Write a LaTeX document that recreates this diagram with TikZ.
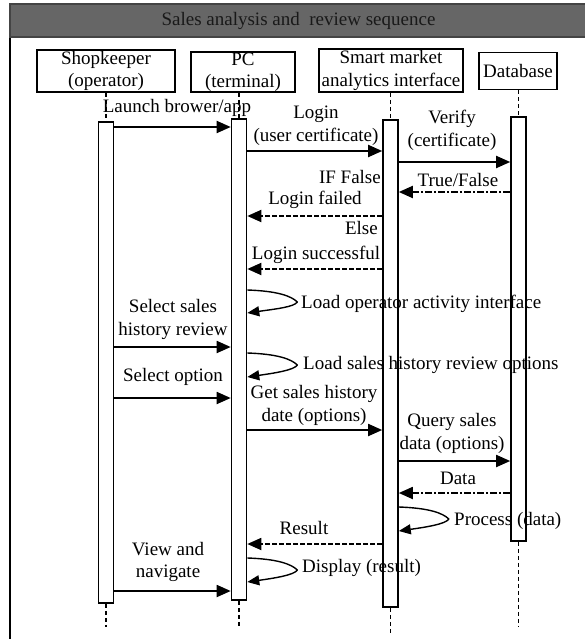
\documentclass[tikz,border=0pt]{standalone}
\usepackage{fontspec}
\setmainfont{Liberation Serif}
\usetikzlibrary{arrows.meta}
\definecolor{titlegray}{HTML}{666666}
\definecolor{titleedge}{HTML}{444444}
\begin{document}
\begin{tikzpicture}[x=1pt,y=-1pt,
  every node/.style={font=\fontsize{19}{22.5}\selectfont, inner sep=0pt},
  actor/.style={draw, line width=1.6pt, fill=white, align=center},
  actbar/.style={draw, line width=1.6pt, fill=white, minimum width=15pt},
  lifeline/.style={line width=1.8pt, dash pattern=on 4pt off 3pt},
  msg/.style={line width=1.8pt, -{Triangle[length=14pt,width=12pt]}},
  reply/.style={msg, dash pattern=on 5pt off 2pt},
  replydot/.style={msg, dash pattern=on 7pt off 2pt on 2pt off 2pt},
  selfmsg/.style={line width=1.4pt, line join=round, -{Triangle[length=12pt,width=10pt]}},
  lbl/.style={align=center},
]
\useasboundingbox (0,0) rectangle (585,639);

% frame and title bar
\draw[line width=1.8pt] (10,37) -- (10,650);
\draw[fill=titlegray, draw=titleedge, line width=1.5pt] (10,4) rectangle (600,37);
\node[text=black!90] (title) at (298.5,20.5) {Sales analysis and\ \ review sequence};

% participants
\node[actor, minimum width=138pt, minimum height=42pt] (shop) at (106,71) {Shopkeeper\\(operator)};
\node[actor, minimum width=104pt, minimum height=40pt] (pc) at (243,72) {PC\\(terminal)};
\node[actor, minimum width=144pt, minimum height=43pt] (smart) at (391,70.5) {Smart market\\analytics interface};
\node[actor, minimum width=78pt, minimum height=37pt] (db) at (518,71) {Database};

% activation bars
\node[actbar, minimum height=481pt] (shopact) at (106,362.5) {};
\node[actbar, minimum height=481pt] (pcact) at (239,359.5) {};
\node[actbar, minimum height=487pt] (smartact) at (390.5,363.5) {};
\node[actbar, minimum height=424pt] (dbact) at (518.5,329) {};

% lifelines
\coordinate (shopend) at (106,627);
\coordinate (pcend) at (239,628);
\coordinate (smartend) at (390.5,635);
\coordinate (dbend) at (518.5,627);
\draw[lifeline] (shopact.north |- shop.south) -- (shopact.north);
\draw[lifeline] (pcact.north |- pc.south) -- (pcact.north);
\draw[lifeline] (smartact.north |- smart.south) -- (smartact.north);
\draw[lifeline] (dbact.north |- db.south) -- (dbact.north);
\draw[lifeline] (shopact.south) -- (shopend);
\draw[lifeline] (pcact.south) -- (pcend);
\draw[lifeline] (smartact.south) -- (smartend);
\draw[lifeline] (dbact.south) -- (dbend);

% login
\node (l1) at (177,108) {Launch brower/app};
\draw[msg] (shopact.east |- 0,127) -- (pcact.west |- 0,127);
\node[lbl] (l2) at (316,125.5) {Login\\(user certificate)};
\draw[msg] (pcact.east |- 0,151) -- (smartact.west |- 0,151);
\node[lbl] (l3) at (452,130.5) {Verify\\(certificate)};
\draw[msg] (smartact.east |- 0,162) -- (dbact.west |- 0,162);
\node (l4) at (458,180) {True/False};
\draw[replydot] (dbact.west |- 0,192) -- (smartact.east |- 0,192);
\node[anchor=east] (l5) at (381,177) {IF False};
\node (l6) at (315,200) {Login failed};
\draw[reply] (smartact.west |- 0,216) -- (pcact.east |- 0,216);
\node[anchor=east] (l7) at (378,228) {Else};
\node (l8) at (316,255) {Login successful};
\draw[reply] (smartact.west |- 0,269) -- (pcact.east |- 0,269);

% operator interface
\draw[selfmsg] (pcact.east |- 0,290) .. controls +(30,1) and +(-6,-6) .. ++(50,12)
  .. controls +(-3,5) and +(28,-4) .. (pcact.east |- 0,313);
\node[anchor=west] (l9) at (301,304) {Load operator activity interface};
\node[lbl] (l10) at (173,319.5) {Select sales\\history review};
\draw[msg] (shopact.east |- 0,347) -- (pcact.west |- 0,347);
\draw[selfmsg] (pcact.east |- 0,353) .. controls +(30,1) and +(-6,-6) .. ++(50,12)
  .. controls +(-3,5) and +(28,-4) .. (pcact.east |- 0,377);
\node[anchor=west] (l11) at (303,365) {Load sales history review options};
\node (l12) at (173,377) {Select option};
\draw[msg] (shopact.east |- 0,398) -- (pcact.west |- 0,398);

% query
\node[lbl] (l13) at (314,405.5) {Get sales history\\date (options)};
\draw[msg] (pcact.east |- 0,430) -- (smartact.west |- 0,430);
\node[lbl] (l14) at (452,433.5) {Query sales\\data (options)};
\draw[msg] (smartact.east |- 0,461) -- (dbact.west |- 0,461);
\node (l15) at (458,478) {Data};
\draw[replydot] (dbact.west |- 0,493) -- (smartact.east |- 0,493);
\draw[selfmsg] (smartact.east |- 0,507) .. controls +(30,1) and +(-6,-6) .. ++(50,12)
  .. controls +(-3,5) and +(28,-4) .. (smartact.east |- 0,531);
\node[anchor=west] (l16) at (454,521) {Process (data)};
\node (l17) at (304,528) {Result};
\draw[reply] (smartact.west |- 0,544) -- (pcact.east |- 0,544);

% display
\node[lbl] (l18) at (168,562) {View and\\navigate};
\draw[msg] (shopact.east |- 0,591) -- (pcact.west |- 0,591);
\draw[selfmsg] (pcact.east |- 0,558) .. controls +(30,1) and +(-6,-6) .. ++(50,12)
  .. controls +(-3,5) and +(28,-4) .. (pcact.east |- 0,582);
\node[anchor=west] (l19) at (302,568) {Display (result)};
\end{tikzpicture}
\end{document}
